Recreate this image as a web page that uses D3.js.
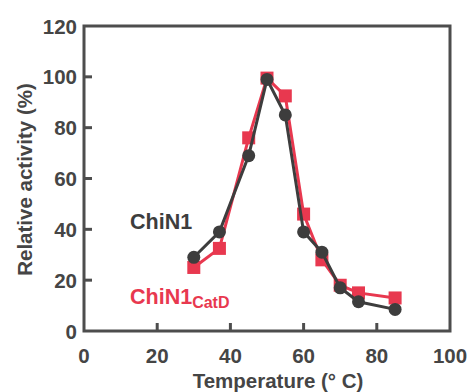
<!DOCTYPE html>
<html>
<head>
<meta charset="utf-8">
<script src="https://cdn.jsdelivr.net/npm/d3@7"></script>
<style>
  body { margin: 0; background: #fff; }
  text { font-family: "Liberation Sans", Arial, sans-serif; font-weight: bold; }
</style>
</head>
<body>
<div id="chart"></div>
<script>
const temps = [30, 37, 45, 50, 55, 60, 65, 70, 75, 85];
const chiN1 = [29, 39, 69, 99, 85, 39, 31, 17, 11.5, 8.5];
const chiN1CatD = [25, 32.5, 76, 99.5, 92.5, 46, 28, 18, 15, 13];
const xTicks = [0, 20, 40, 60, 80, 100];
const yTicks = [0, 20, 40, 60, 80, 100, 120];

const W = 470, H = 392;
const margin = { top: 26, right: 20, bottom: 61, left: 84 };
const dark = "#3d3d3d", red = "#e8384f", axisCol = "#4d4d4d", textCol = "#454545";

const svg = d3.select("#chart").append("svg")
  .attr("width", W).attr("height", H);

const x = d3.scaleLinear().domain([0, 100]).range([margin.left, W - margin.right]);
const y = d3.scaleLinear().domain([0, 120]).range([H - margin.bottom, margin.top]);

// frame
svg.append("rect")
  .attr("x", x(0)).attr("y", y(120))
  .attr("width", x(100) - x(0)).attr("height", y(0) - y(120))
  .attr("fill", "none").attr("stroke", axisCol).attr("stroke-width", 3);

// inward ticks
svg.append("g").selectAll("line").data(xTicks.slice(1, -1)).join("line")
  .attr("x1", d => x(d)).attr("x2", d => x(d))
  .attr("y1", y(0)).attr("y2", y(0) - 8)
  .attr("stroke", axisCol).attr("stroke-width", 3);
svg.append("g").selectAll("line").data(yTicks.slice(1, -1)).join("line")
  .attr("x1", x(0)).attr("x2", x(0) + 8)
  .attr("y1", d => y(d)).attr("y2", d => y(d))
  .attr("stroke", axisCol).attr("stroke-width", 3);

// tick labels
svg.append("g").selectAll("text").data(xTicks).join("text")
  .attr("x", d => x(d)).attr("y", y(0) + 32)
  .attr("text-anchor", "middle").attr("font-size", 20.5).attr("fill", textCol)
  .text(d => d);
svg.append("g").selectAll("text").data(yTicks).join("text")
  .attr("x", x(0) - 7).attr("y", d => y(d) + 7.5)
  .attr("text-anchor", "end").attr("font-size", 20.5).attr("fill", textCol)
  .text(d => d);

// axis titles
svg.append("text")
  .attr("x", 278).attr("y", 388)
  .attr("text-anchor", "middle").attr("font-size", 20.5).attr("fill", textCol)
  .text("Temperature (° C)");
svg.append("text")
  .attr("transform", `translate(32,${(y(0) + y(120)) / 2 + 1}) rotate(-90)`)
  .attr("text-anchor", "middle").attr("font-size", 20.5).attr("fill", textCol)
  .text("Relative activity (%)");

const line = d3.line().x(d => x(d[0])).y(d => y(d[1]));
const redData = temps.map((t, i) => [t, chiN1CatD[i]]);
const darkData = temps.map((t, i) => [t, chiN1[i]]);

// red series (squares)
svg.append("path").datum(redData)
  .attr("d", line).attr("fill", "none").attr("stroke", red).attr("stroke-width", 3);
svg.append("g").selectAll("rect").data(redData).join("rect")
  .attr("x", d => x(d[0]) - 6.5).attr("y", d => y(d[1]) - 6.5)
  .attr("width", 13).attr("height", 13).attr("fill", red);

// dark series (circles)
svg.append("path").datum(darkData)
  .attr("d", line).attr("fill", "none").attr("stroke", dark).attr("stroke-width", 3);
svg.append("g").selectAll("circle").data(darkData).join("circle")
  .attr("cx", d => x(d[0])).attr("cy", d => y(d[1])).attr("r", 6.5)
  .attr("fill", dark);

// labels
svg.append("text")
  .attr("x", 130).attr("y", 229)
  .attr("font-size", 21.5).attr("fill", dark)
  .text("ChiN1");
const lbl = svg.append("text")
  .attr("x", 130).attr("y", 304)
  .attr("font-size", 21.5).attr("fill", red);
lbl.append("tspan").text("ChiN1");
lbl.append("tspan").attr("font-size", 16).attr("dy", 4).text("CatD");
</script>
</body>
</html>
